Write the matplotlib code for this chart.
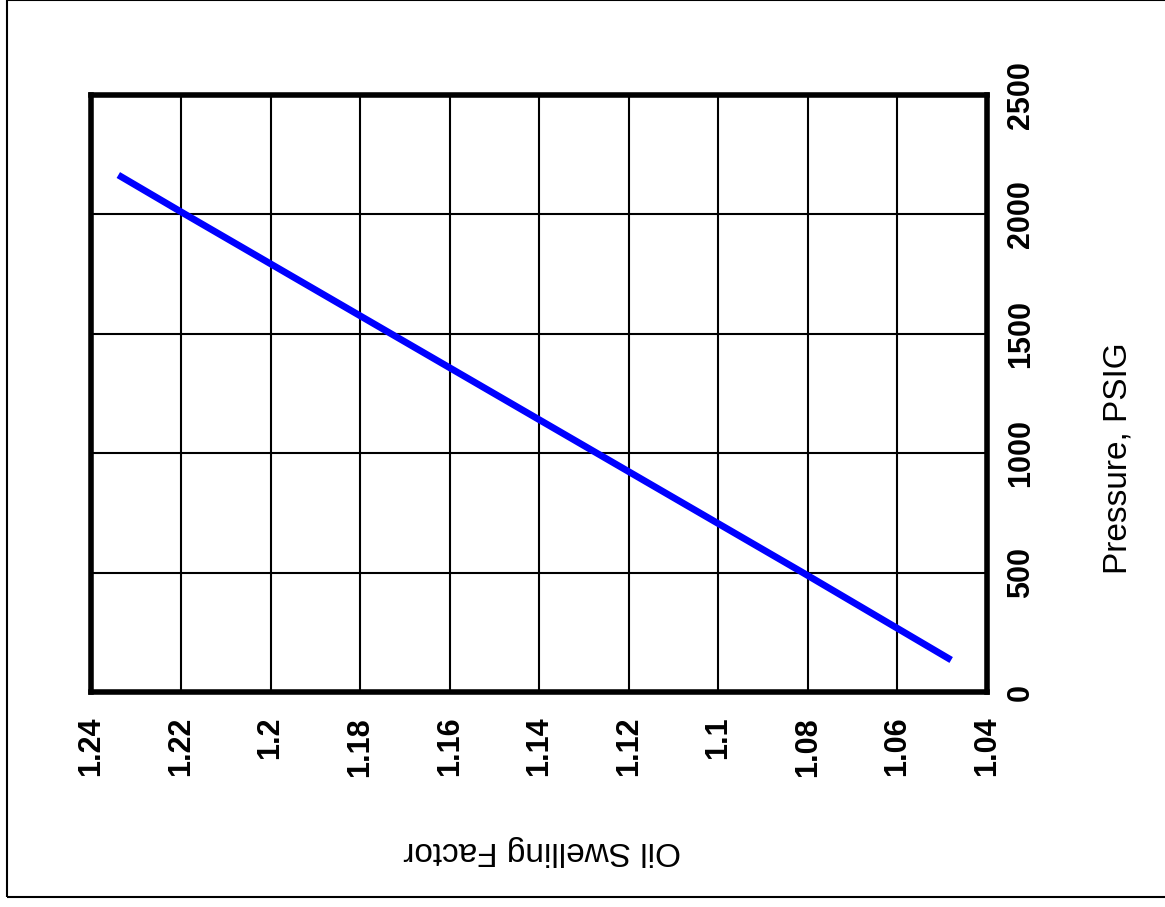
import matplotlib
matplotlib.use("Agg")
import matplotlib.pyplot as plt
from matplotlib.patches import Rectangle

# Swelling factor vs. pressure (chart is laid out turned on its side)
pressure = [136, 500, 1000, 1500, 2000, 2165]
swelling = [1.048, 1.081, 1.127, 1.173, 1.219, 1.234]

factor_ticks = [1.24, 1.22, 1.2, 1.18, 1.16, 1.14, 1.12, 1.1, 1.08, 1.06, 1.04]
factor_labels = ['1.24', '1.22', '1.2', '1.18', '1.16', '1.14', '1.12', '1.1', '1.08', '1.06', '1.04']
pressure_ticks = [0, 500, 1000, 1500, 2000, 2500]

fig = plt.figure(figsize=(11.65, 9.07), dpi=100)
ax = fig.add_axes([0.0785, 0.2365, 0.7687, 0.6588])

ax.plot(swelling, pressure, color='#0000ff', linewidth=4.9, solid_capstyle='butt')

ax.set_xlim(1.24, 1.04)
ax.set_ylim(0, 2500)
ax.set_xticks(factor_ticks)
ax.set_xticklabels(factor_labels)
ax.set_yticks(pressure_ticks)
ax.yaxis.tick_right()

ax.grid(True, color='black', linewidth=1.5)
ax.set_axisbelow(True)
for s in ax.spines.values():
    s.set_linewidth(4)

tick_font = dict(family=['Liberation Sans', 'DejaVu Sans'], weight='bold', size=22)
for lab in ax.get_xticklabels():
    lab.set(rotation=90, ha='center', va='top', **tick_font)
for lab in ax.get_yticklabels():
    lab.set(rotation=90, ha='left', va='center', **tick_font)
ax.tick_params(axis='x', length=0, pad=17.5)
ax.tick_params(axis='y', length=0, pad=13.5)

label_font = dict(family=['Liberation Sans', 'DejaVu Sans'], size=24)
fig.text(0.9597, 0.495, 'Pressure, PSIG', rotation=90, ha='center', va='center', **label_font)
fig.text(0.4652, 0.0628, 'Oil Swelling Factor', rotation=180, ha='center', va='center', **label_font)

# thin border around the page
fig.patches.append(Rectangle((0.0062, 0.011), 1.1, 0.9885, transform=fig.transFigure,
                             fill=False, edgecolor='black', linewidth=1.5))

fig.savefig('out.png', dpi=100)
